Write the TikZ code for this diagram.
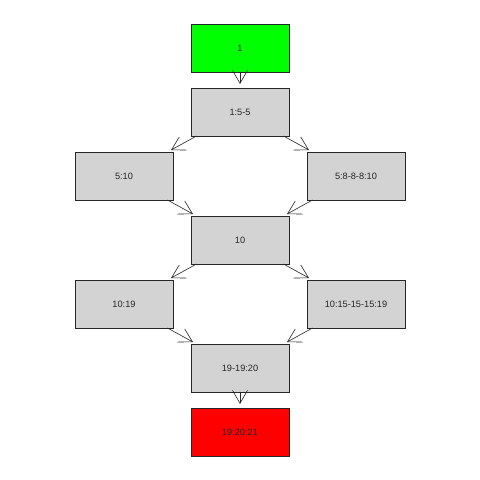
\documentclass[tikz,border=0pt]{standalone}
\usepackage{fontspec}
\setmainfont{Liberation Sans}
\usetikzlibrary{arrows.meta}
\definecolor{boxgray}{HTML}{D3D3D3}
\definecolor{boxgreen}{HTML}{00FF00}
\definecolor{boxred}{HTML}{FF0000}
\tikzset{
  state/.style={draw=black!85, line width=0.6pt, rectangle, minimum width=98pt, minimum height=48pt,
    inner sep=0pt, outer sep=0pt, fill=boxgray, font=\fontsize{9.2pt}{10pt}\selectfont, text=black!85},
  edge/.style={draw=black!85, line width=0.6pt, shorten >=4pt, -{Straight Barb[length=13pt,width=15pt,line width=0.6pt]}}
}
\begin{document}
\begin{tikzpicture}[x=1pt,y=-1pt]
\fill[white] (0,0) rectangle (480,480);
\useasboundingbox (0,0) rectangle (480,480);
\node[state, fill=boxgreen] (n1) at (240,48) {1};
\node[state] (n2) at (240,112) {1:5-5};
\node[state] (n3) at (124,176) {5:10};
\node[state] (n4) at (356,176) {5:8-8-8:10};
\node[state] (n5) at (240,240) {10};
\node[state] (n6) at (124,304) {10:19};
\node[state] (n7) at (356,304) {10:15-15-15:19};
\node[state] (n8) at (240,368) {19-19:20};
\node[state, fill=boxred] (n9) at (240,432) {19:20:21};
\draw[edge] (n1) -- (n2);
\draw[edge] (n2) -- (n3);
\draw[edge] (n2) -- (n4);
\draw[edge] (n3) -- (n5);
\draw[edge] (n4) -- (n5);
\draw[edge] (n5) -- (n6);
\draw[edge] (n5) -- (n7);
\draw[edge] (n6) -- (n8);
\draw[edge] (n7) -- (n8);
\draw[edge] (n8) -- (n9);
\end{tikzpicture}
\end{document}
